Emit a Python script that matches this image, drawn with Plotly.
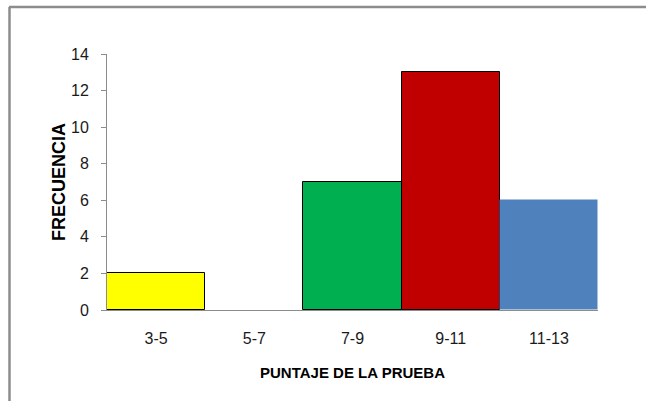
import plotly.graph_objects as go

categories = ["3-5", "5-7", "7-9", "9-11", "11-13"]
frecuencia = [2, 0, 7, 13, 6]
bar_colors = ["#FFFF00", "#FFFFFF", "#00B050", "#C00000", "#4F81BD"]
line_colors = ["#000000", "rgba(0,0,0,0)", "#000000", "#000000", "rgba(0,0,0,0)"]
y_ticks = [0, 2, 4, 6, 8, 10, 12, 14]

W, H = 646, 401
L, R, T, B = 107, 48, 54, 91

fig = go.Figure(go.Bar(
    x=categories, y=frecuencia,
    marker=dict(color=bar_colors, line=dict(color=line_colors, width=1)),
))

font_family = "Liberation Sans, Arial"
fig.update_layout(
    width=W, height=H,
    margin=dict(l=L, r=R, t=T, b=B, pad=0),
    paper_bgcolor="white", plot_bgcolor="white",
    bargap=0, showlegend=False,
    font=dict(family=font_family, size=16, color="#1A1A1A"),
    xaxis=dict(
        showline=True, linecolor="#8C8C8C", linewidth=1,
        ticks="", showgrid=False,
        tickfont=dict(size=16),
        ticklabelstandoff=14,
        title=dict(text="<b>PUNTAJE DE LA PRUEBA</b>", standoff=21,
                   font=dict(size=15, color="#000000")),
    ),
    yaxis=dict(
        range=[0, 14], tickvals=y_ticks,
        showline=True, linecolor="#8C8C8C", linewidth=1,
        ticks="outside", ticklen=5, tickcolor="#8C8C8C",
        ticklabelstandoff=9,
        showgrid=False, zeroline=False,
        tickfont=dict(size=16),
        title=dict(text="<b>FRECUENCIA</b>", standoff=0,
                   font=dict(size=18, color="#000000")),
    ),
    shapes=[
        dict(type="line", xref="paper", yref="paper",
             x0=(9 - L) / (W - L - R), x1=(W - L) / (W - L - R),
             y0=(H - 7 - B) / (H - T - B), y1=(H - 7 - B) / (H - T - B),
             line=dict(color="#8C8C8C", width=2.5)),
        dict(type="line", xref="paper", yref="paper",
             x0=(9.5 - L) / (W - L - R), x1=(9.5 - L) / (W - L - R),
             y0=(H - 7 - B) / (H - T - B), y1=(0 - B) / (H - T - B),
             line=dict(color="#8C8C8C", width=2.5)),
    ],
)

fig.write_html("out.html", config={"displayModeBar": False},
               post_script="document.body.style.margin='0';")
